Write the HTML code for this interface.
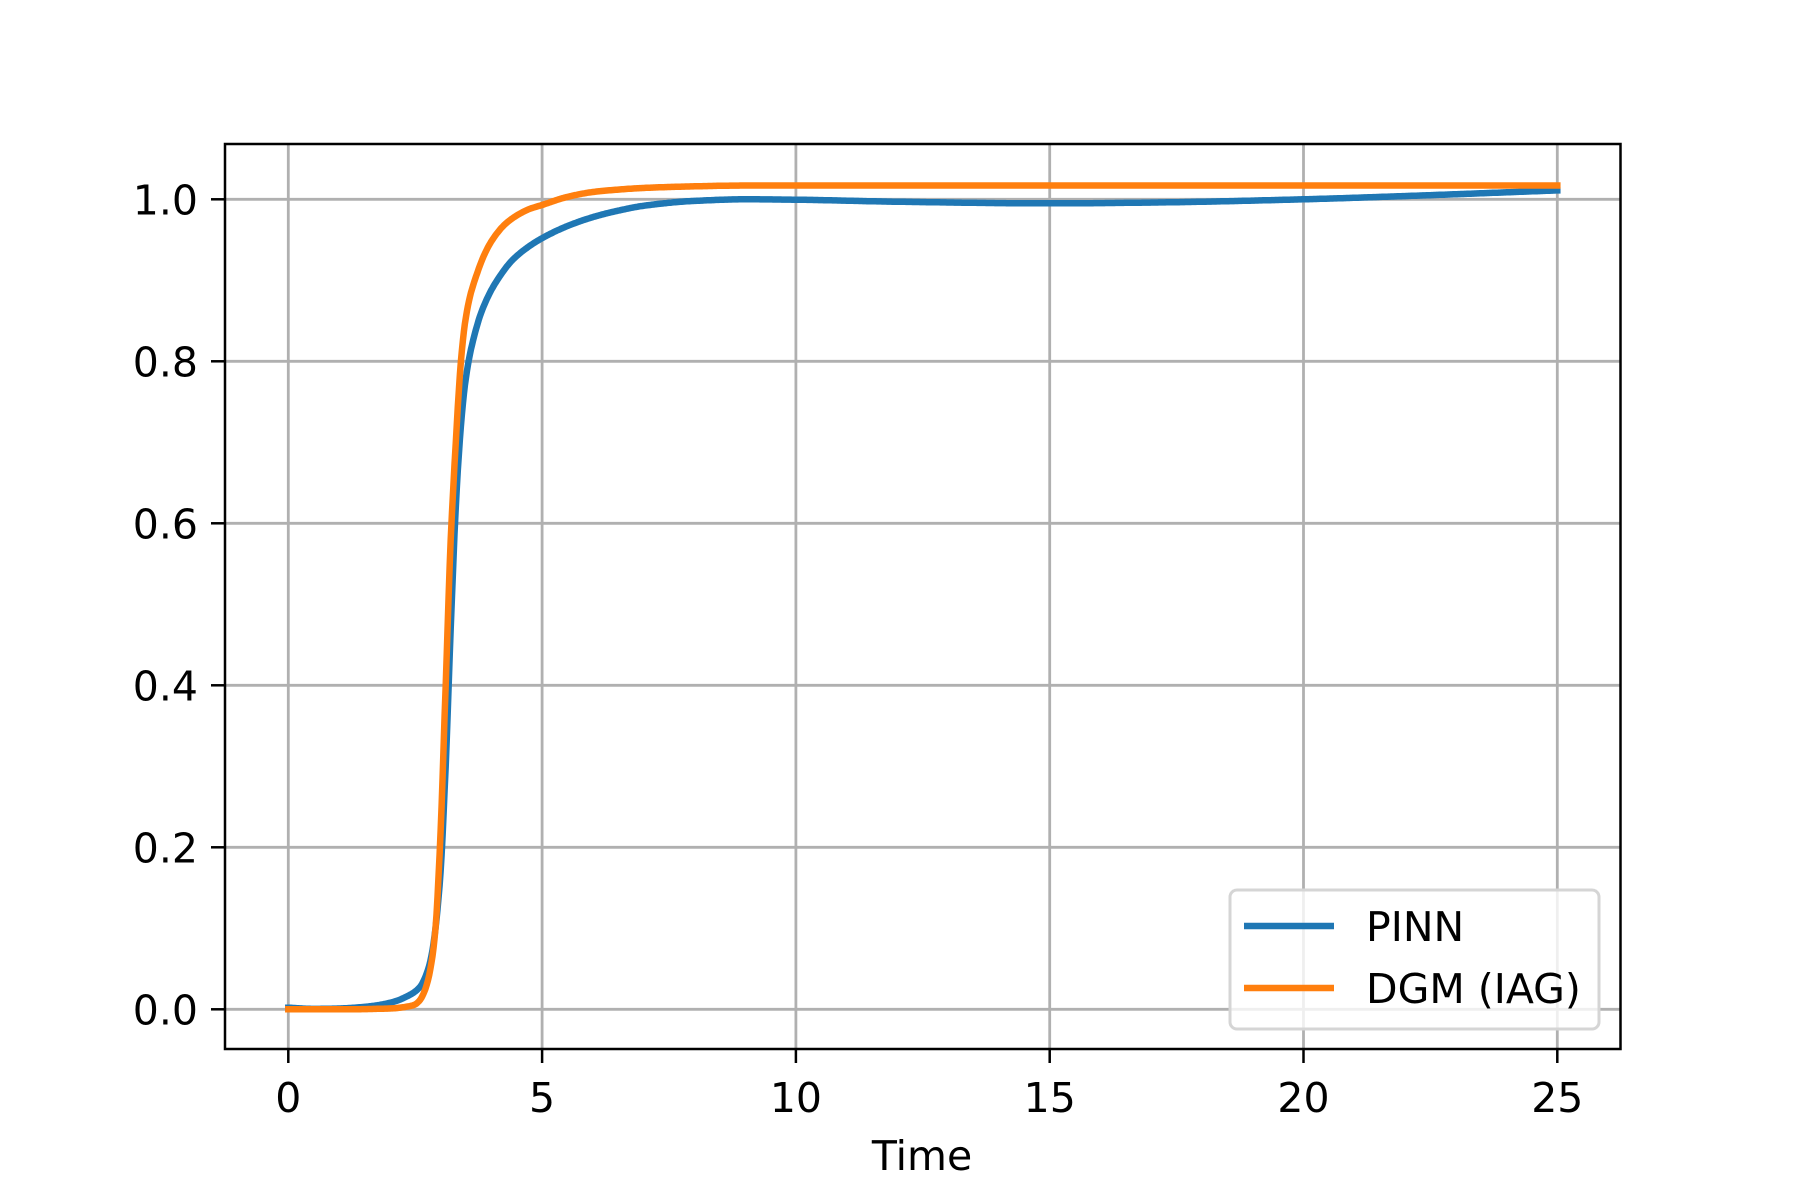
<!DOCTYPE html>
<html><head><meta charset="utf-8"><style>
body{margin:0;background:#fff}
svg{display:block;font-family:"DejaVu Sans","Liberation Sans",sans-serif}
</style></head><body>
<svg id="chart" width="1800" height="1200" viewBox="0 0 1800 1200" xmlns="http://www.w3.org/2000/svg">
<rect width="1800" height="1200" fill="#fff"/>
<g id="grid"></g>
<g id="series"></g>
<rect x="225" y="144" width="1395.5" height="905" fill="none" stroke="#000" stroke-width="2.5"/>
<g id="ticks"></g>
<text x="922" y="1170" font-size="41" text-anchor="middle">Time</text>
<g>
<rect x="1230" y="890" width="369" height="139" rx="7" fill="#fff" fill-opacity="0.8" stroke="#d5d5d5" stroke-width="3"/>
<line x1="1244" y1="926" x2="1334" y2="926" stroke="#1f77b4" stroke-width="6.5"/>
<text x="1366" y="941" font-size="41">PINN</text>
<line x1="1244" y1="988" x2="1334" y2="988" stroke="#ff7f0e" stroke-width="6.5"/>
<text x="1366" y="1003" font-size="41">DGM (IAG)</text>
</g>
</svg>
<script>
const pinnT = [0,0.5,1,1.5,2,2.4,2.6,2.7,2.8,2.9,3.0,3.1,3.2,3.3,3.4,3.5,3.6,3.7,3.8,4.0,4.2,4.4,4.7,5,5.5,6,6.5,7,8,9,10,12,15,17,20,22,25];
const pinnY = [0.002,0.0005,0.001,0.003,0.008,0.018,0.028,0.04,0.06,0.1,0.17,0.3,0.47,0.62,0.72,0.78,0.815,0.84,0.86,0.888,0.908,0.924,0.94,0.952,0.967,0.978,0.986,0.992,0.998,1.0,0.9995,0.997,0.995,0.996,1.0,1.004,1.011];
const dgmT = [0,1,2,2.4,2.5,2.6,2.7,2.8,2.9,3.0,3.1,3.2,3.3,3.4,3.5,3.6,3.7,3.85,4.0,4.25,4.5,4.75,5,5.5,6,6.5,7,8,9,25];
const dgmY = [0,0,0.001,0.004,0.006,0.012,0.025,0.05,0.1,0.22,0.4,0.58,0.70,0.80,0.855,0.885,0.905,0.93,0.948,0.968,0.98,0.988,0.993,1.003,1.009,1.012,1.014,1.016,1.017,1.017];
const xTicks = [0,5,10,15,20,25];
const yTicks = [0,0.2,0.4,0.6,0.8,1.0];
const yTickLabels = ["0.0","0.2","0.4","0.6","0.8","1.0"];

const NS="http://www.w3.org/2000/svg";
const X = t => 288.3 + t*50.76;
const Y = v => 1009.3 - v*810;
function mk(tag, attrs, parent){const e=document.createElementNS(NS,tag);for(const k in attrs)e.setAttribute(k,attrs[k]);parent.appendChild(e);return e;}
const grid=document.getElementById('grid'), ticks=document.getElementById('ticks'), series=document.getElementById('series');
xTicks.forEach(t=>{
  const g=mk('line',{x1:X(t),x2:X(t),y1:144,y2:1049,stroke:'#b0b0b0','stroke-width':2.8},grid);
  
  
  const tk=mk('line',{x1:X(t),x2:X(t),y1:1049,y2:1063,stroke:'#000','stroke-width':2.5},ticks);
  
  
  const lb=mk('text',{x:X(t),y:1112,'font-size':41,'text-anchor':'middle'},ticks);
  lb.textContent=String(t);
  
  
});
yTicks.forEach((v,i)=>{
  const g=mk('line',{x1:225,x2:1620,y1:Y(v),y2:Y(v),stroke:'#b0b0b0','stroke-width':2.8},grid);
  
  
  const tk=mk('line',{x1:211,x2:225,y1:Y(v),y2:Y(v),stroke:'#000','stroke-width':2.5},ticks);
  
  
  const lb=mk('text',{x:198,y:Y(v)+15,'font-size':41,'text-anchor':'end'},ticks);
  lb.textContent=yTickLabels[i];
  
  
});
function monotone(xs,ys){
  const n=xs.length,d=[],m=new Array(n);
  for(let i=0;i<n-1;i++)d.push((ys[i+1]-ys[i])/(xs[i+1]-xs[i]));
  m[0]=d[0];m[n-1]=d[n-2];
  for(let i=1;i<n-1;i++){m[i]=(d[i-1]*d[i]<=0)?0:3*(d[i-1]+d[i])/(2/d[i-1]*0+ (1/d[i-1]+1/d[i])*1.5*2/3*1.5);}
  for(let i=1;i<n-1;i++){ if(d[i-1]*d[i]<=0){m[i]=0;} else {const w1=2*(xs[i+1]-xs[i])+(xs[i]-xs[i-1]),w2=(xs[i+1]-xs[i])+2*(xs[i]-xs[i-1]);m[i]=(w1+w2)/(w1/d[i-1]+w2/d[i]);} }
  const out=[];
  for(let i=0;i<n-1;i++){
    const h=xs[i+1]-xs[i],steps=Math.max(4,Math.ceil(h*40));
    for(let s=0;s<steps;s++){
      const u=s/steps,h00=2*u*u*u-3*u*u+1,h10=u*u*u-2*u*u+u,h01=-2*u*u*u+3*u*u,h11=u*u*u-u*u;
      out.push([xs[i]+u*h,h00*ys[i]+h10*h*m[i]+h01*ys[i+1]+h11*h*m[i+1]]);
    }
  }
  out.push([xs[n-1],ys[n-1]]);
  return out;
}
function drawLine(ts,ys,color,name){
  const pts=monotone(ts,ys).map(p=>X(p[0]).toFixed(1)+','+Y(p[1]).toFixed(1)).join(' ');
  const p=mk('polyline',{points:pts,fill:'none',stroke:color,'stroke-width':6.5,'stroke-linejoin':'round','stroke-linecap':'square'},series);
  
  
}
drawLine(pinnT,pinnY,'#1f77b4','pinn-line');
drawLine(dgmT,dgmY,'#ff7f0e','dgm-iag-line');
</script>
</body></html>
